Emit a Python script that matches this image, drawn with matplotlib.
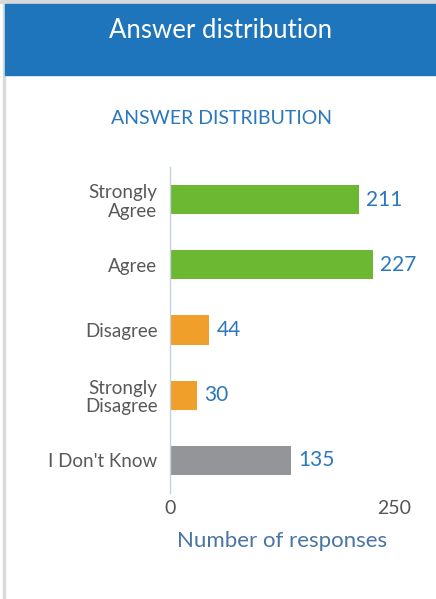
import matplotlib.pyplot as plt
from matplotlib.patches import Rectangle

plt.rcParams['font.family'] = ['Lato', 'DejaVu Sans']

categories = ['Strongly\nAgree', 'Agree', 'Disagree', 'Strongly\nDisagree', "I Don't Know"]
responses = [211, 227, 44, 30, 135]
bar_colors = ['#6cb833', '#6cb833', '#f0a02a', '#f0a02a', '#939598']
x_ticks = [0, 250]

W, H = 436, 599
fig = plt.figure(figsize=(W / 100, H / 100), dpi=100)

# card frame and header band
fig.patches.append(Rectangle((0, 1 - 3 / H), 1, 3 / H, transform=fig.transFigure,
                             color='#d9d9d9', zorder=0))
fig.patches.append(Rectangle((3 / W, 0), 2 / W, 1, transform=fig.transFigure,
                             color='#d9d9d9', zorder=0))
fig.patches.append(Rectangle((5 / W, 1 - 75 / H), 1, 71 / H, transform=fig.transFigure,
                             color='#1f75bb', zorder=1))
fig.text(221 / W, 1 - 31 / H, 'Answer distribution', color='white', fontsize=18.5,
         ha='center', va='center')
fig.text(221 / W, 1 - 119 / H, 'ANSWER DISTRIBUTION', color='#2a77bd', fontsize=14,
         ha='center', va='center')

ax = fig.add_axes([170 / W, (H - 493) / H, 224 / W, 326 / H])
pos = list(range(len(categories)))
ax.barh(pos, responses, height=0.45, color=bar_colors)
ax.set_ylim(len(categories) - 0.5, -0.5)
ax.set_xlim(0, 250)

for p, v in zip(pos, responses):
    ax.annotate(str(v), (v, p), xytext=(5, 0), textcoords='offset points',
                va='center', ha='left', color='#2a77bd', fontsize=15, clip_on=False)

ax.set_yticks(pos)
ax.set_yticklabels(categories, fontsize=13.5, color='#595959', linespacing=1.1)
ax.set_xticks(x_ticks)
ax.set_xticklabels([str(t) for t in x_ticks], fontsize=14, color='#555555')
ax.tick_params(axis='both', length=0)
ax.tick_params(axis='y', pad=9)
ax.tick_params(axis='x', pad=5)
ax.set_xlabel('Number of responses', fontsize=16, color='#4a74a3', labelpad=10)

for s in ['top', 'right', 'bottom']:
    ax.spines[s].set_visible(False)
ax.spines['left'].set_color('#c5d3e0')
ax.spines['left'].set_linewidth(1)

fig.savefig('out.png', dpi=100)
